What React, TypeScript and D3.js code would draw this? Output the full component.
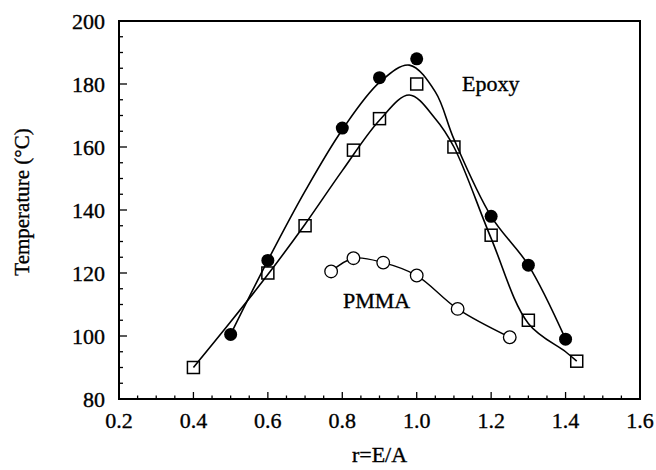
import React from "react";
import * as d3 from "d3";

// Epoxy, filled circles
const filledX = [0.5, 0.6, 0.8, 0.9, 1.0, 1.2, 1.3, 1.4];
const filledY = [100.5, 124, 166, 182, 188, 138, 122.5, 99];
// Epoxy, open squares
const squareX = [0.4, 0.6, 0.7, 0.83, 0.9, 1.0, 1.1, 1.2, 1.3, 1.43];
const squareY = [90, 120, 135, 159, 169, 180, 160, 132, 105, 92];
// PMMA, open circles
const pmmaX = [0.77, 0.83, 0.91, 1.0, 1.11, 1.25];
const pmmaY = [120.5, 124.7, 123.3, 119.2, 108.6, 99.6];
// fitted curves
const fitFilledX = [0.5, 0.6, 0.7, 0.8, 0.9, 0.98, 1.05, 1.1, 1.2, 1.3, 1.4];
const fitFilledY = [100.5, 124, 146, 165.5, 180.5, 186, 177.5, 162.5, 138, 122.5, 99];
const fitSquareX = [0.4, 0.5, 0.6, 0.7, 0.8, 0.9, 0.98, 1.05, 1.1, 1.2, 1.3, 1.4, 1.43];
const fitSquareY = [90, 104.5, 119.5, 135.5, 152.5, 168.5, 176.5, 169, 160, 131, 104, 95, 92];

const xTickLabels = [0.2, 0.4, 0.6, 0.8, 1.0, 1.2, 1.4, 1.6];
const yTickLabels = [80, 100, 120, 140, 160, 180, 200];

const W = 656, H = 470;
const L = 119, R = 640, T = 21, B = 399;
const FONT = "'Liberation Serif', 'Times New Roman', serif";
const TXT = { fontFamily: FONT, fill: "#000", stroke: "#000", strokeWidth: 0.35 };

export default function App() {
  const x = d3.scaleLinear().domain([0.2, 1.6]).range([L, R]);
  const y = d3.scaleLinear().domain([80, 200]).range([B, T]);
  const line = d3
    .line<[number, number]>()
    .x((d) => x(d[0]))
    .y((d) => y(d[1]))
    .curve(d3.curveCatmullRom.alpha(0.5));
  const zip = (a: number[], b: number[]) => a.map((v, i) => [v, b[i]] as [number, number]);

  const xMinor = d3.range(0, 29).map((i) => 0.2 + i * 0.05);
  const yMinor = d3.range(0, 25).map((i) => 80 + i * 5);

  return (
    <div style={{ position: "fixed", left: 0, top: 0 }}>
      <svg width={W} height={H} style={{ display: "block", background: "#fff" }}>
        {/* ticks */}
        {xMinor.map((v, i) => {
          const major = i % 4 === 0;
          return (
            <line key={"xt" + i} x1={x(v)} x2={x(v)} y1={B} y2={B - (major ? 7 : 3.5)} stroke="#000" strokeWidth={1.3} />
          );
        })}
        {yMinor.map((v, i) => {
          const major = i % 4 === 0;
          return (
            <line key={"yt" + i} x1={L} x2={L + (major ? 8 : 4)} y1={y(v)} y2={y(v)} stroke="#000" strokeWidth={1.3} />
          );
        })}
        <rect x={L} y={T} width={R - L} height={B - T} fill="none" stroke="#000" strokeWidth={2} />
        {/* tick labels */}
        {xTickLabels.map((v) => (
          <text key={"xl" + v} x={x(v)} y={428} textAnchor="middle" fontSize={22} {...TXT}>
            {v.toFixed(1)}
          </text>
        ))}
        {yTickLabels.map((v) => (
          <text key={"yl" + v} x={105} y={y(v)} dy="0.35em" textAnchor="end" fontSize={22} {...TXT}>
            {v}
          </text>
        ))}
        {/* axis titles */}
        <text x={(L + R) / 2} y={462} textAnchor="middle" fontSize={22} {...TXT}>
          r=E/A
        </text>
        <text
          transform={`translate(29, 202) rotate(-90)`}
          textAnchor="middle"
          fontSize={21}
          {...TXT}
        >
          Temperature (°C)
        </text>
        {/* curves */}
        <path d={line(zip(fitFilledX, fitFilledY)) || ""} fill="none" stroke="#000" strokeWidth={1.6} />
        <path d={line(zip(fitSquareX, fitSquareY)) || ""} fill="none" stroke="#000" strokeWidth={1.6} />
        <path d={line(zip(pmmaX, pmmaY)) || ""} fill="none" stroke="#000" strokeWidth={1.4} />
        {/* markers */}
        {zip(filledX, filledY).map((d, i) => (
          <circle key={"f" + i} cx={x(d[0])} cy={y(d[1])} r={6.5} fill="#000" />
        ))}
        {zip(squareX, squareY).map((d, i) => (
          <rect key={"s" + i} x={x(d[0]) - 6} y={y(d[1]) - 6} width={12} height={12} fill="none" stroke="#000" strokeWidth={1.5} />
        ))}
        {zip(pmmaX, pmmaY).map((d, i) => (
          <circle key={"p" + i} cx={x(d[0])} cy={y(d[1])} r={6.3} fill="#fff" stroke="#000" strokeWidth={1.3} />
        ))}
        {/* labels */}
        <text x={462} y={91} fontSize={22} {...TXT}>Epoxy</text>
        <text x={343} y={308} fontSize={22} {...TXT}>PMMA</text>
      </svg>
    </div>
  );
}
